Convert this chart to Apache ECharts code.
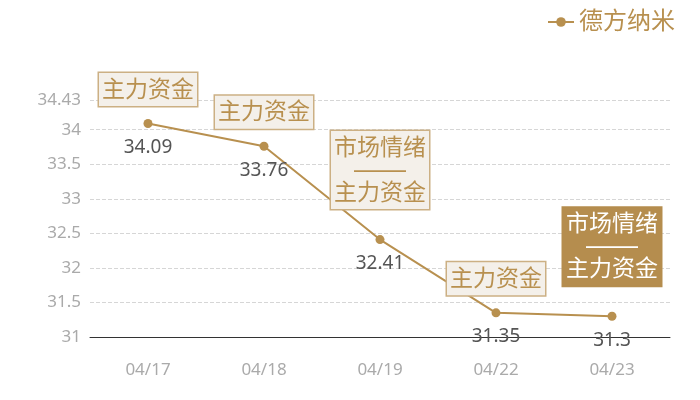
<!DOCTYPE html>
<html lang="zh">
<head>
<meta charset="UTF-8">
<title>德方纳米</title>
<script src="https://cdn.jsdelivr.net/npm/echarts@6/dist/echarts.min.js"></script>
<style>
  * { margin: 0; padding: 0; }
  html, body { width: 700px; height: 400px; background: #fff; }
  #chart { width: 700px; height: 400px; }
</style>
</head>
<body>
<div id="chart"></div>
<script>
  // 数据
  const dates = ['04/17', '04/18', '04/19', '04/22', '04/23'];
  const prices = [34.09, 33.76, 32.41, 31.35, 31.3];
  const signals = [['主力资金'], ['主力资金'], ['市场情绪', '主力资金'], ['主力资金'], ['市场情绪', '主力资金']];
  const highlighted = [false, false, false, false, true];
  const seriesName = '德方纳米';

  const gold = '#b8904f';
  const font = '"Noto Sans", "Noto Sans CJK SC", sans-serif';

  const chart = echarts.init(document.getElementById('chart'));

  // 信号标签：浅底框，最后一个为深色实底
  const signalData = prices.map((v, i) => {
    const twoLine = signals[i].length > 1;
    const hi = highlighted[i];
    return {
      value: v,
      label: {
        distance: twoLine ? 30 : 17,
        color: hi ? '#fff' : gold,
        backgroundColor: hi ? '#b58d4e' : '#f4f0ea',
        borderColor: hi ? '#b58d4e' : '#ccb084'
      }
    };
  });

  chart.setOption({
    animation: false,
    legend: {
      data: [seriesName],
      right: 20,
      top: 5,
      itemWidth: 26,
      itemHeight: 12,
      itemGap: 6,
      textStyle: { color: gold, fontSize: 24, fontFamily: font }
    },
    grid: { left: 90, right: 30, top: 100, bottom: 63 },
    xAxis: {
      type: 'category',
      data: dates,
      boundaryGap: true,
      axisLine: { lineStyle: { color: '#333', width: 1 } },
      axisTick: { show: false },
      axisLabel: { color: '#aaa', fontSize: 17, margin: 25, fontFamily: font }
    },
    yAxis: {
      type: 'value',
      min: 31,
      max: 34.43,
      interval: 0.5,
      axisLine: { show: false },
      axisTick: { show: false },
      axisLabel: { color: '#aaa', fontSize: 17, margin: 9, fontFamily: font },
      splitLine: { lineStyle: { color: '#d6d6d6', type: 'dashed' } }
    },
    series: [
      {
        name: seriesName,
        type: 'line',
        data: prices,
        color: gold,
        symbol: 'circle',
        symbolSize: 9,
        lineStyle: { width: 2, color: gold },
        itemStyle: { color: gold },
        label: {
          show: true,
          position: 'bottom',
          distance: 10,
          color: '#555',
          fontSize: 19,
          fontFamily: font
        },
        z: 3
      },
      {
        name: 'signal',
        type: 'scatter',
        data: signalData,
        symbolSize: 1,
        itemStyle: { color: 'rgba(0,0,0,0)', opacity: 1 },
        emphasis: { disabled: true },
        silent: true,
        label: {
          show: true,
          position: 'top',
          formatter: p => signals[p.dataIndex].map(s => '{t|' + s + '}').join('\n{sep|——}\n'),
          fontSize: 23,
          fontFamily: font,
          padding: [5, 3, 4, 3],
          borderWidth: 1.5,
          rich: {
            t: { fontSize: 23, lineHeight: 24, fontFamily: font },
            sep: { fontSize: 26, lineHeight: 21, fontFamily: '"Liberation Sans"' }
          }
        },
        z: 4
      }
    ]
  });
</script>
</body>
</html>
